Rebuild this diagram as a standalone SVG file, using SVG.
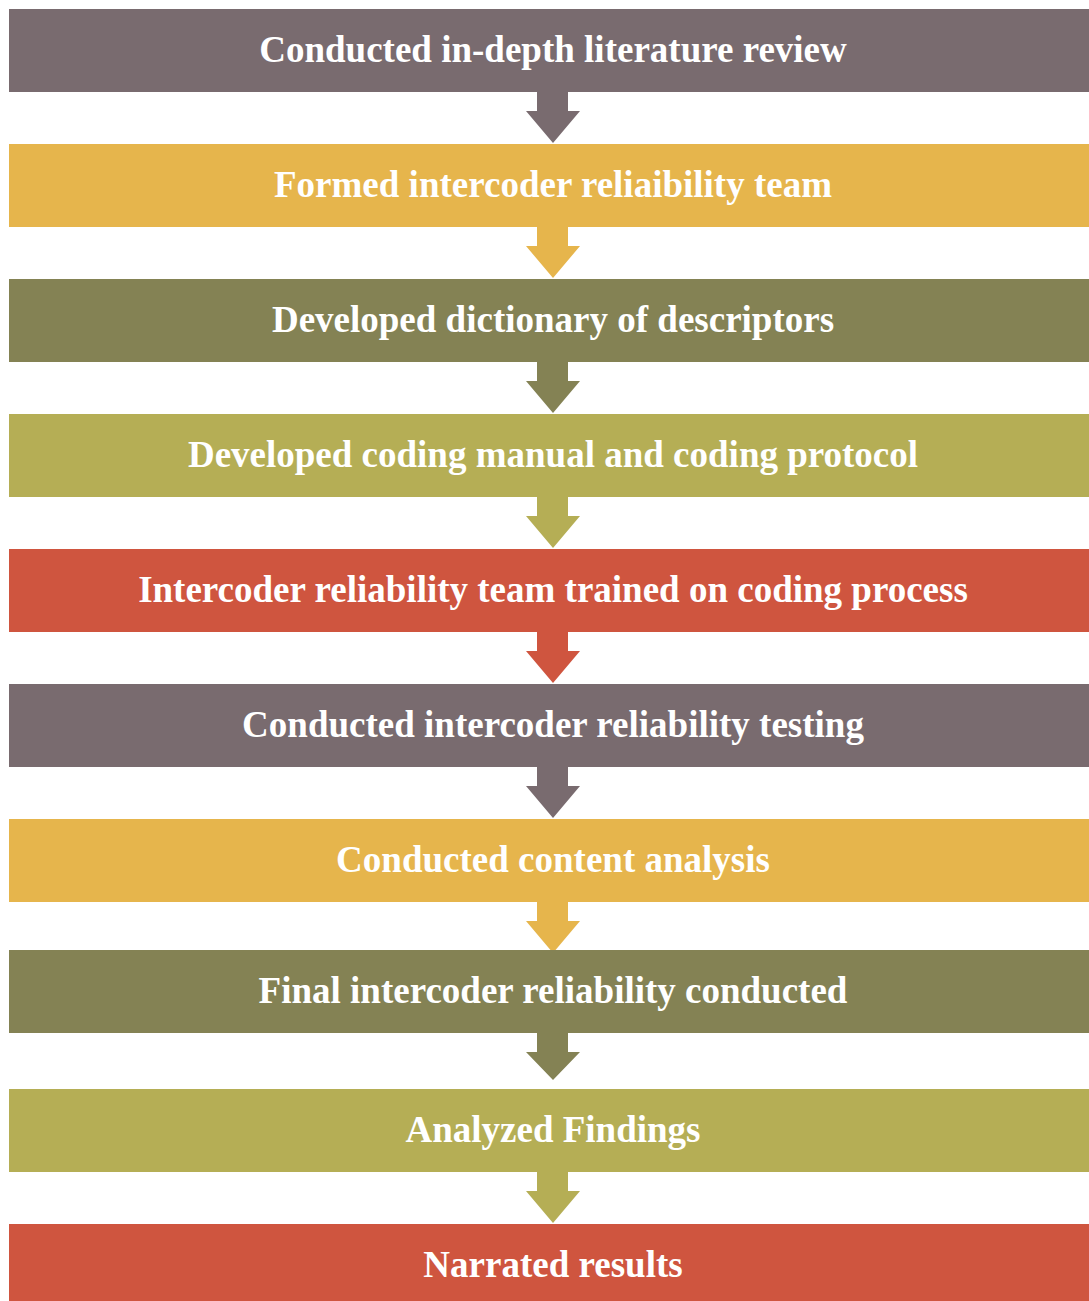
<svg xmlns="http://www.w3.org/2000/svg" width="1089" height="1301" viewBox="0 0 1089 1301">
<style>
.t{font-family:"Liberation Serif","Times New Roman",serif;font-weight:bold;font-size:37px;fill:#fff;text-anchor:middle}
.c1{fill:#796B6F}.c2{fill:#E6B54C}.c3{fill:#848254}.c4{fill:#B5AE55}.c5{fill:#CF553F}
</style>
<rect width="1089" height="1301" fill="#fff"/>
<g id="connectors">
<polygon class="c1" points="537,90 568,90 568,111 580,111 553,143 526,111 537,111"/>
<polygon class="c2" points="537,225 568,225 568,246 580,246 553,278 526,246 537,246"/>
<polygon class="c3" points="537,360 568,360 568,381 580,381 553,413 526,381 537,381"/>
<polygon class="c4" points="537,495 568,495 568,516 580,516 553,548 526,516 537,516"/>
<polygon class="c5" points="537,630 568,630 568,651 580,651 553,683 526,651 537,651"/>
<polygon class="c1" points="537,765 568,765 568,786 580,786 553,818 526,786 537,786"/>
<polygon class="c2" points="537,900 568,900 568,921 580,921 553,953 526,921 537,921"/>
<polygon class="c3" points="537,1031 568,1031 568,1052 580,1052 553,1080 526,1052 537,1052"/>
<polygon class="c4" points="537,1170 568,1170 568,1191 580,1191 553,1223 526,1191 537,1191"/>
</g>
<g id="n1"><rect class="c1" x="9" y="9" width="1080" height="83"/><text class="t" x="553" y="62">Conducted in-depth literature review</text></g>
<g id="n2"><rect class="c2" x="9" y="144" width="1080" height="83"/><text class="t" x="553" y="197">Formed intercoder reliaibility team</text></g>
<g id="n3"><rect class="c3" x="9" y="279" width="1080" height="83"/><text class="t" x="553" y="332">Developed dictionary of descriptors</text></g>
<g id="n4"><rect class="c4" x="9" y="414" width="1080" height="83"/><text class="t" x="553" y="467">Developed coding manual and coding protocol</text></g>
<g id="n5"><rect class="c5" x="9" y="549" width="1080" height="83"/><text class="t" x="553" y="602">Intercoder reliability team trained on coding process</text></g>
<g id="n6"><rect class="c1" x="9" y="684" width="1080" height="83"/><text class="t" x="553" y="737">Conducted intercoder reliability testing</text></g>
<g id="n7"><rect class="c2" x="9" y="819" width="1080" height="83"/><text class="t" x="553" y="872">Conducted content analysis</text></g>
<g id="n8"><rect class="c3" x="9" y="950" width="1080" height="83"/><text class="t" x="553" y="1003">Final intercoder reliability conducted</text></g>
<g id="n9"><rect class="c4" x="9" y="1089" width="1080" height="83"/><text class="t" x="553" y="1142">Analyzed Findings</text></g>
<g id="n10"><rect class="c5" x="9" y="1224" width="1080" height="77"/><text class="t" x="553" y="1277">Narrated results</text></g>
</svg>
